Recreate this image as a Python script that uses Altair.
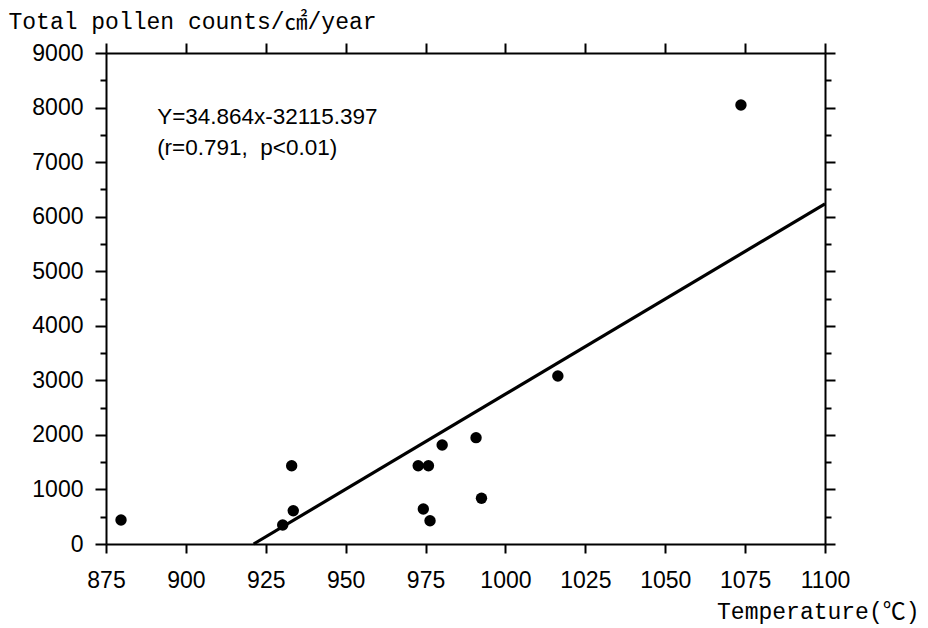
import altair as alt
import pandas as pd

# ---- data ----
temp = [879.7, 930.3, 933.6, 933.1, 972.7, 975.9, 980.2, 974.3, 976.4, 990.8, 992.5, 1016.4, 1073.7]
pollen = [440, 348, 610, 1435, 1435, 1435, 1815, 641, 427, 1949, 838, 3079, 8046]

# regression line end points (Y = 34.864x - 32115.397, clipped to the plot)
fit_temp = [921.2, 1100]
fit_pollen = [0, 6235]

x_ticks = list(range(875, 1101, 25))
y_major = list(range(0, 9001, 1000))
y_minor = list(range(500, 9000, 1000))

ann_line1 = ["Y=34.864x-32115.397"]
ann_line2 = ["(r=0.791,\u00a0 p<0.01)"]
ann_x = [891]
ann_y1 = [7826]
ann_y2 = [7258]

pts = pd.DataFrame({"t": temp, "p": pollen})
fit = pd.DataFrame({"t": fit_temp, "p": fit_pollen})
a1 = pd.DataFrame({"t": ann_x, "p": ann_y1, "s": ann_line1})
a2 = pd.DataFrame({"t": ann_x, "p": ann_y2, "s": ann_line2})

SERIF = "'Liberation Mono', 'Noto Sans CJK JP'"
SANS = "Liberation Sans"

xs = alt.Scale(domain=[875, 1100], nice=False, zero=False)
ys = alt.Scale(domain=[0, 9000], nice=False)

common = dict(domainColor="black", domainWidth=2, tickColor="black", tickWidth=2,
              grid=False, labelColor="black", labelFont=SANS, labelFontSize=23)

x_bottom = alt.Axis(orient="bottom", values=x_ticks, tickSize=9, labelPadding=16,
                    labelFlush=False, labelOverlap=False,
                    title="Temperature(℃)", titleFont=SERIF, titleFontSize=23,
                    titleFontWeight="normal", titleColor="black", titleAlign="right",
                    titleBaseline="alphabetic", titleX=813, titleY=74, format="d", **common)
y_left = alt.Axis(orient="left", values=y_major, tickSize=11, labelPadding=12,
                  labelOverlap=False,
                  title="Total pollen counts/㎠/year", titleFont=SERIF, titleFontSize=23,
                  titleFontWeight="normal", titleColor="black", titleAngle=0,
                  titleAlign="left", titleBaseline="alphabetic", titleX=-98, titleY=-25,
                  format="d", **common)
x_top = alt.Axis(orient="top", values=x_ticks, tickSize=10, labels=False, title=None,
                 **common)
y_right = alt.Axis(orient="right", values=y_major, tickSize=10, labels=False, title=None,
                   **common)
y_left_minor = alt.Axis(orient="left", values=y_minor, tickSize=6, labels=False,
                        domain=False, title=None, **common)
y_right_minor = alt.Axis(orient="right", values=y_minor, tickSize=6, labels=False,
                         domain=False, title=None, **common)

points = alt.Chart(pts).mark_circle(size=130, color="black", opacity=1).encode(
    x=alt.X("t:Q", scale=xs, axis=x_bottom),
    y=alt.Y("p:Q", scale=ys, axis=y_left),
)

line = alt.Chart(fit).mark_line(color="black", strokeWidth=3.2).encode(
    x=alt.X("t:Q", scale=xs, axis=x_top),
    y=alt.Y("p:Q", scale=ys, axis=y_right),
)

txt1 = alt.Chart(a1).mark_text(align="left", baseline="middle", font=SANS,
                               fontSize=22.5, color="black").encode(
    x=alt.X("t:Q", scale=xs, axis=None),
    y=alt.Y("p:Q", scale=ys, axis=y_left_minor),
    text="s:N",
)

txt2 = alt.Chart(a2).mark_text(align="left", baseline="middle", font=SANS,
                               fontSize=22.5, color="black").encode(
    x=alt.X("t:Q", scale=xs, axis=None),
    y=alt.Y("p:Q", scale=ys, axis=y_right_minor),
    text="s:N",
)

chart = alt.layer(points, line, txt1, txt2).resolve_axis(
    x="independent", y="independent"
).properties(
    width=719, height=491,
    autosize=alt.AutoSizeParams(type="none"),
    padding={"left": 98, "top": 45, "right": 95, "bottom": 80},
).configure_view(stroke=None).configure(background="white")

chart.save("out.html", embed_options={"renderer": "svg", "actions": False})
